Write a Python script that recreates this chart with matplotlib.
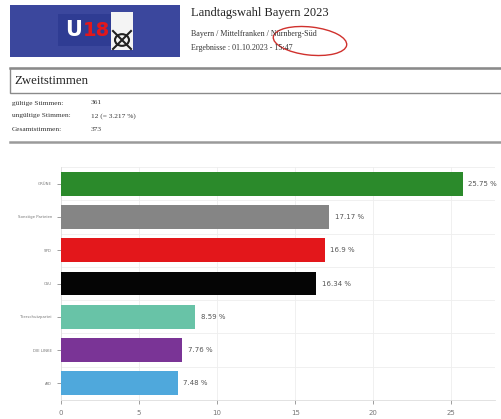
import matplotlib
matplotlib.use("Agg")
import matplotlib.pyplot as plt
from matplotlib.patches import Rectangle, Ellipse, Circle
import numpy as np

W, H = 502, 419

# chart data
parties = ['GRÜNE', 'Sonstige Parteien', 'SPD', 'CSU', 'Tierschutzpartei', 'DIE LINKE', 'AfD']
shares = [25.75, 17.17, 16.9, 16.34, 8.59, 7.76, 7.48]
bar_colors = ['#2b8a2b', '#858585', '#e3171b', '#050505', '#68c3a7', '#7a3496', '#4fa8dc']
x_ticks = [0, 5, 10, 15, 20, 25]

# header texts
title = 'Landtagswahl Bayern 2023'
subtitle = 'Bayern / Mittelfranken / Nürnberg-Süd'
updated = 'Ergebnisse : 01.10.2023 - 15:47'
section = 'Zweitstimmen'
stat_names = ['gültige Stimmen:', 'ungültige Stimmen:', 'Gesamtstimmen:']
stat_values = ['361', '12 (= 3.217 %)', '373']

serif = 'Liberation Serif'


def fx(px):
    return px / W


def fy(py):
    return 1 - py / H


fig = plt.figure(figsize=(W / 100, H / 100), dpi=100)
fig.patch.set_facecolor('white')

# logo
fig.patches.append(Rectangle((fx(10), fy(57)), 170 / W, 52 / H, transform=fig.transFigure,
                             facecolor='#3b479d', edgecolor='none'))
fig.patches.append(Rectangle((fx(58), fy(46)), 60 / W, 32 / H, transform=fig.transFigure,
                             facecolor='#2f3c93', edgecolor='none'))
fig.patches.append(Rectangle((fx(111), fy(50)), 22 / W, 38 / H, transform=fig.transFigure,
                             facecolor='#f4f4f4', edgecolor='none'))
fig.text(fx(74), fy(30), 'U', color='white', fontsize=15, fontweight='bold',
         ha='center', va='center', family='DejaVu Sans')
fig.text(fx(96), fy(30), '18', color='#e3171b', fontsize=14, fontweight='bold',
         ha='center', va='center', family='DejaVu Sans Condensed')
fig.patches.append(Circle((fx(122), fy(40)), 7 / W, transform=fig.transFigure,
                          facecolor='none', edgecolor='#222222', linewidth=1.5))
fig.lines.append(plt.Line2D([fx(113), fx(131)], [fy(31), fy(49)], transform=fig.transFigure,
                            color='#222222', linewidth=1.5))
fig.lines.append(plt.Line2D([fx(113), fx(131)], [fy(49), fy(31)], transform=fig.transFigure,
                            color='#222222', linewidth=1.5))

# header texts
fig.text(fx(191), fy(13), title, fontsize=9.0, family=serif, va='center', color='#222222')
fig.text(fx(191), fy(34), subtitle, fontsize=5.8, family=serif, va='center', color='#333333')
fig.text(fx(191), fy(48), updated, fontsize=5.8, family=serif, va='center', color='#333333')
fig.patches.append(Ellipse((fx(310), fy(41)), 74 / W, 28 / H, angle=-8, transform=fig.transFigure,
                           facecolor='none', edgecolor='#d0312d', linewidth=1.0))

# section box
fig.patches.append(Rectangle((fx(10), fy(93)), 500 / W, 25 / H, transform=fig.transFigure,
                             facecolor='white', edgecolor='#8a8a8a', linewidth=1.0))
fig.lines.append(plt.Line2D([fx(10), fx(502)], [fy(68), fy(68)], transform=fig.transFigure,
                            color='#8a8a8a', linewidth=1.8))
fig.text(fx(14), fy(81), section, fontsize=9.3, family=serif, va='center', color='#222222')

for i, (name, val) in enumerate(zip(stat_names, stat_values)):
    y = 103 + i * 13
    fig.text(fx(12), fy(y), name, fontsize=5.3, family=serif, va='center', color='#333333')
    fig.text(fx(91), fy(y), val, fontsize=5.3, family=serif, va='center', color='#333333')

fig.lines.append(plt.Line2D([fx(10), fx(502)], [fy(142), fy(142)], transform=fig.transFigure,
                            color='#9a9a9a', linewidth=1.8))

# bar chart
ax = fig.add_axes([fx(61), fy(400), (495 - 61) / W, (400 - 167) / H])
ypos = np.arange(len(parties))
ax.barh(ypos, shares, height=0.72, color=bar_colors, zorder=3)
for y, v in zip(ypos, shares):
    ax.text(v + 0.35, y, f'{v} %', va='center', ha='left', fontsize=5, color='#555555')

ax.set_xlim(0, 27.8)
ax.set_ylim(6.5, -0.5)
ax.set_xticks(x_ticks)
ax.set_xticklabels([str(t) for t in x_ticks])
ax.set_yticks(ypos)
ax.set_yticklabels(parties)
ax.set_yticks(np.arange(len(parties) + 1) - 0.5, minor=True)
ax.tick_params(axis='x', labelsize=5, colors='#777777', length=3, width=0.5, pad=4)
ax.tick_params(axis='y', which='major', labelsize=2.8, colors='#777777', length=3, width=0.5)
ax.tick_params(axis='y', which='minor', length=0)
ax.grid(True, axis='x', color='#eeeeee', linewidth=0.6, zorder=0)
ax.grid(True, axis='y', which='minor', color='#eeeeee', linewidth=0.6, zorder=0)
for side in ['top', 'right']:
    ax.spines[side].set_visible(False)
ax.spines['left'].set_color('#dddddd')
ax.spines['bottom'].set_color('#dddddd')
ax.spines['left'].set_linewidth(0.6)
ax.spines['bottom'].set_linewidth(0.6)

fig.savefig('out.png', dpi=100)
